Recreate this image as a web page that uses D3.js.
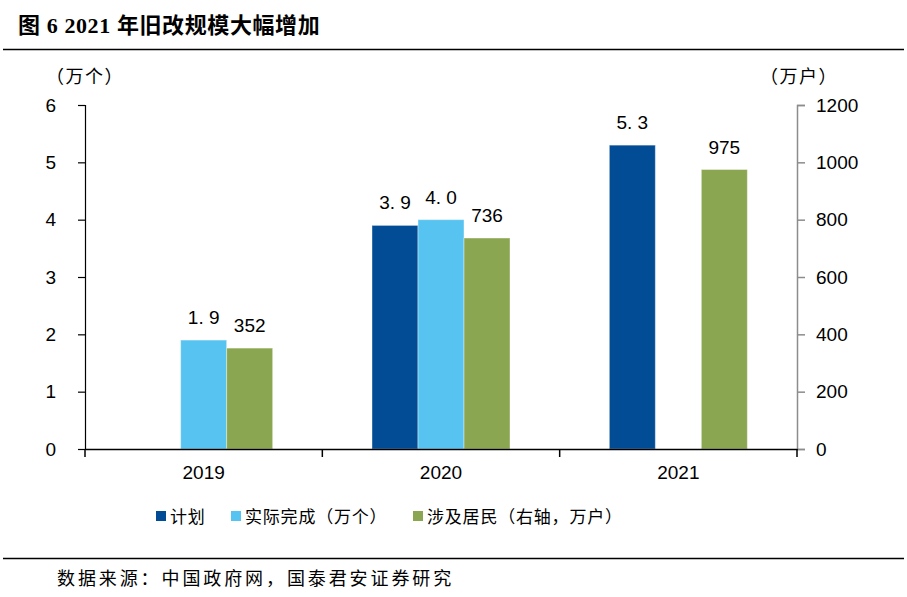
<!DOCTYPE html>
<html>
<head>
<meta charset="utf-8">
<script src="https://cdn.jsdelivr.net/npm/d3@7"></script>
<style>
  body { margin: 0; background: #fff; }
  text { font-family: "Liberation Sans", Arial, sans-serif; }
  .cjk { font-family: "Noto Sans CJK SC", sans-serif; }
  .title { font-family: "Liberation Serif", "Noto Sans CJK SC", serif; font-weight: bold; }
</style>
</head>
<body>
<div id="chart"></div>
<script>
const years = ["2019", "2020", "2021"];
const plan = [null, 3.9, 5.3];          // 计划（万个）
const actual = [1.9, 4.0, null];        // 实际完成（万个）
const residents = [352, 736, 975];      // 涉及居民（右轴，万户）
const leftTicks = [0, 1, 2, 3, 4, 5, 6];
const rightTicks = [0, 200, 400, 600, 800, 1000, 1200];
const seriesNames = ["计划", "实际完成（万个）", "涉及居民（右轴，万户）"];
const colors = ["#024c96", "#56c3f1", "#8ba650"];

const W = 907, H = 597;
const margin = {top: 105, right: 110, bottom: 148, left: 85},
      width = W - margin.left - margin.right,
      height = H - margin.top - margin.bottom;

const svg = d3.select("#chart")
              .append("svg")
              .attr("width", W)
              .attr("height", H);

// title and separator lines
svg.append("text")
   .attr("class", "title")
   .attr("x", 18).attr("y", 33)
   .attr("font-size", 22)
   .attr("letter-spacing", 0.6)
   .text("图 6 2021 年旧改规模大幅增加");
svg.append("line").attr("x1", 3).attr("x2", 904).attr("y1", 49.5).attr("y2", 49.5)
   .attr("stroke", "#000").attr("stroke-width", 1.5);
svg.append("line").attr("x1", 3).attr("x2", 904).attr("y1", 558.5).attr("y2", 558.5)
   .attr("stroke", "#000").attr("stroke-width", 1.5);
svg.append("text")
   .attr("class", "cjk")
   .attr("x", 57).attr("y", 585)
   .attr("font-size", 18)
   .attr("letter-spacing", 2.9)
   .text("数据来源：中国政府网，国泰君安证券研究");

const g = svg.append("g")
             .attr("transform", `translate(${margin.left}, ${margin.top})`);

const x = d3.scaleBand()
            .domain(years)
            .range([0, width]);

const barW = 46;
const xs = d3.scaleBand()
             .domain([0, 1, 2])
             .range([(x.bandwidth() - barW * 3) / 2, (x.bandwidth() + barW * 3) / 2]);

const yL = d3.scaleLinear().domain([0, 6]).range([height, 0]);
const yR = d3.scaleLinear().domain([0, 1200]).range([height, 0]);

// bars
const rows = years.map((yr, i) => [
  {yr, s: 0, v: plan[i], y: yL, label: plan[i] == null ? "" : plan[i].toFixed(1).replace(".", ". ")},
  {yr, s: 1, v: actual[i], y: yL, label: actual[i] == null ? "" : actual[i].toFixed(1).replace(".", ". ")},
  {yr, s: 2, v: residents[i], y: yR, label: String(residents[i])}
]).flat().filter(d => d.v != null);

g.append("g")
 .selectAll("rect")
 .data(rows)
 .join("rect")
 .attr("x", d => x(d.yr) + xs(d.s))
 .attr("width", xs.bandwidth())
 .attr("y", d => d.y(d.v))
 .attr("height", d => height - d.y(d.v))
 .attr("fill", d => colors[d.s])
 .attr("stroke", "#ffffff")
 .attr("stroke-opacity", 0.4)
 .attr("stroke-width", 1);

g.append("g")
 .selectAll("text")
 .data(rows)
 .join("text")
 .attr("x", d => x(d.yr) + xs(d.s) + xs.bandwidth() / 2)
 .attr("y", d => d.y(d.v) - 16)
 .attr("text-anchor", "middle")
 .attr("font-size", 19)
 .attr("fill", "#000")
 .text(d => d.label);

// left axis
const axL = g.append("g")
             .call(d3.axisLeft(yL).tickValues(leftTicks).tickFormat(d3.format("d"))
                     .tickSize(7).tickPadding(22));
axL.select(".domain").attr("stroke", "#000").attr("stroke-width", 1.2);
axL.selectAll(".tick line").attr("stroke", "#000").attr("stroke-width", 1.2);
axL.selectAll(".tick text").attr("font-size", 19).attr("fill", "#000")
   .attr("font-family", null);

// right axis
const axR = g.append("g")
             .attr("transform", `translate(${width}, 0)`)
             .call(d3.axisRight(yR).tickValues(rightTicks).tickFormat(d3.format("d"))
                     .tickSize(8).tickPadding(11));
axR.select(".domain").attr("stroke", "#8c8c8c").attr("stroke-width", 1.5);
axR.selectAll(".tick line").attr("stroke", "#8c8c8c").attr("stroke-width", 1.5);
axR.selectAll(".tick text").attr("font-size", 19).attr("fill", "#000");

// bottom axis with ticks at band boundaries
const axB = g.append("g")
             .attr("transform", `translate(0, ${height})`)
             .call(d3.axisBottom(x).tickSize(0).tickPadding(17));
axB.select(".domain").attr("stroke", "#000").attr("stroke-width", 1.5);
axB.selectAll(".tick text").attr("font-size", 19).attr("fill", "#000");
axB.selectAll(".bound")
   .data([0, ...years.map(yr => x(yr) + x.bandwidth())])
   .join("line")
   .attr("class", "bound")
   .attr("x1", d => d).attr("x2", d => d)
   .attr("y1", 0).attr("y2", 8)
   .attr("stroke", "#000").attr("stroke-width", 1.5);

// axis unit labels
svg.append("text").attr("class", "cjk")
   .attr("x", 85).attr("y", 83).attr("text-anchor", "middle")
   .attr("font-size", 18).attr("letter-spacing", 1.5)
   .text("（万个）");
svg.append("text").attr("class", "cjk")
   .attr("x", 799).attr("y", 83).attr("text-anchor", "middle")
   .attr("font-size", 18).attr("letter-spacing", 1.5)
   .text("（万户）");

// legend
const legendX = [156, 231, 413];
const legend = svg.append("g")
                  .selectAll("g")
                  .data(seriesNames)
                  .join("g")
                  .attr("transform", (d, i) => `translate(${legendX[i]}, 511)`);
legend.append("rect")
      .attr("width", 10).attr("height", 10)
      .attr("fill", (d, i) => colors[i]);
legend.append("text")
      .attr("class", "cjk")
      .attr("x", 14).attr("y", 11.5)
      .attr("font-size", 17)
      .attr("letter-spacing", 0.8)
      .text(d => d);
</script>
</body>
</html>
